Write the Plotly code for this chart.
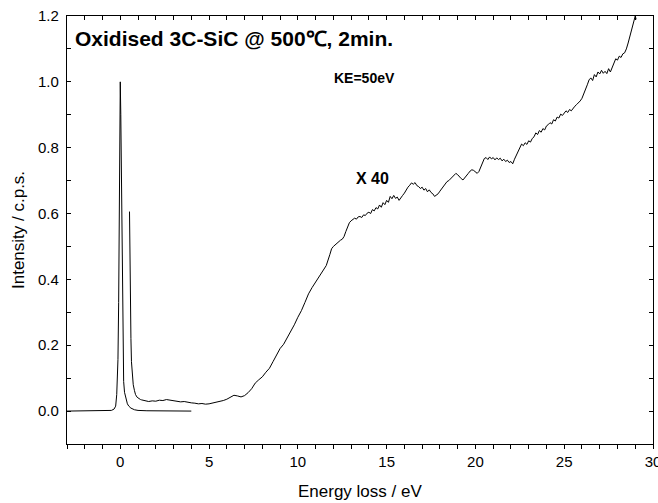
import plotly.graph_objects as go

# Zero-loss (elastic) peak
zl_x = [-3.0, -1.0, -0.5, -0.35, -0.26, -0.2, -0.13, -0.09, -0.06, -0.03, 0.0, 0.03, 0.06, 0.09,
        0.12, 0.15, 0.19, 0.24, 0.32, 0.4, 0.48, 0.6, 0.8, 1.0, 1.5, 4.0]
zl_y = [0.0, 0.0, 0.002, 0.006, 0.015, 0.05, 0.157, 0.33, 0.56, 0.82, 1.0, 0.9, 0.72, 0.56,
        0.33, 0.157, 0.09, 0.057, 0.035, 0.022, 0.015, 0.009, 0.004, 0.002, 0.001, 0.0]

# Loss spectrum magnified x40
x40_x = [0.52, 0.54, 0.56, 0.58, 0.6, 0.63, 0.67, 0.73, 0.8, 0.86, 0.95, 1.05, 1.14,
         1.2, 1.4, 1.6, 1.8, 2.0, 2.2, 2.4, 2.6, 2.8, 3.0, 3.2, 3.4, 3.6, 3.8, 4.0, 4.2, 4.4, 4.6, 4.8,
         5.0, 5.2, 5.4, 5.6, 5.8, 6.0, 6.2, 6.4, 6.6, 6.8, 7.0, 7.2, 7.4, 7.6, 7.8, 8.0, 8.2, 8.4, 8.6,
         8.8, 9.0, 9.2, 9.4, 9.6, 9.8, 10.0, 10.2, 10.4, 10.6, 10.8, 11.0, 11.2, 11.4, 11.6, 11.8, 11.9,
         12.0, 12.1, 12.2, 12.3, 12.4, 12.5, 12.6, 12.7, 12.8, 12.9, 13.0, 13.1, 13.2, 13.3, 13.4, 13.5,
         13.6, 13.7, 13.8, 13.9, 14.0, 14.1, 14.2, 14.3, 14.4, 14.5, 14.6, 14.7, 14.8, 14.9, 15.0, 15.1,
         15.2, 15.3, 15.4, 15.5, 15.6, 15.7, 15.8, 15.9, 16.0, 16.1, 16.2, 16.3, 16.4, 16.5, 16.6, 16.7,
         16.8, 16.9, 17.0, 17.1, 17.2, 17.3, 17.4, 17.5, 17.6, 17.7, 17.8, 17.9, 18.0, 18.1, 18.2, 18.3,
         18.4, 18.5, 18.6, 18.7, 18.8, 18.9, 19.0, 19.1, 19.2, 19.3, 19.4, 19.5, 19.6, 19.7, 19.8, 19.9,
         20.0, 20.1, 20.2, 20.3, 20.4, 20.5, 20.6, 20.7, 20.8, 20.9, 21.0, 21.1, 21.2, 21.3, 21.4, 21.5,
         21.6, 21.7, 21.8, 21.9, 22.0, 22.1, 22.2, 22.3, 22.4, 22.5, 22.6, 22.7, 22.8, 22.9, 23.0, 23.1,
         23.2, 23.3, 23.4, 23.5, 23.6, 23.7, 23.8, 23.9, 24.0, 24.1, 24.2, 24.3, 24.4, 24.5, 24.6, 24.7,
         24.8, 24.9, 25.0, 25.1, 25.2, 25.3, 25.4, 25.5, 25.6, 25.7, 25.8, 25.9, 26.0, 26.1, 26.2, 26.3,
         26.4, 26.5, 26.6, 26.7, 26.8, 26.9, 27.0, 27.1, 27.2, 27.3, 27.4, 27.5, 27.6, 27.7, 27.8, 27.9,
         28.0, 28.1, 28.2, 28.3, 28.4, 28.5, 28.6, 28.7, 28.8, 28.9, 28.95, 29.0, 29.05]
x40_y = [0.606, 0.45, 0.36, 0.30, 0.22, 0.15, 0.11, 0.08, 0.062, 0.05, 0.042, 0.037, 0.035,
         0.034, 0.031, 0.029, 0.031, 0.030, 0.033, 0.032, 0.035, 0.033, 0.032, 0.031, 0.028, 0.029, 0.026,
         0.025, 0.024, 0.022, 0.023, 0.021, 0.022, 0.024, 0.026, 0.029, 0.032, 0.036, 0.042, 0.048, 0.046,
         0.043, 0.047, 0.056, 0.068, 0.085, 0.095, 0.104, 0.118, 0.130, 0.150, 0.170, 0.190, 0.203, 0.222,
         0.242, 0.262, 0.285, 0.305, 0.330, 0.356, 0.375, 0.392, 0.405, 0.425, 0.442, 0.475, 0.493,
         0.500, 0.505, 0.511, 0.514, 0.519, 0.522, 0.530, 0.545, 0.560, 0.572, 0.578, 0.581, 0.586, 0.583,
         0.590, 0.591, 0.588, 0.596, 0.594, 0.601, 0.604, 0.600, 0.612, 0.608, 0.618, 0.614, 0.626, 0.619,
         0.633, 0.627, 0.640, 0.634, 0.652, 0.645, 0.655, 0.646, 0.650, 0.640, 0.646, 0.655, 0.662, 0.672,
         0.680, 0.686, 0.693, 0.689, 0.694, 0.685, 0.682, 0.676, 0.680, 0.671, 0.676, 0.666, 0.672, 0.664,
         0.660, 0.652, 0.656, 0.660, 0.668, 0.675, 0.684, 0.690, 0.697, 0.700, 0.706, 0.710, 0.716, 0.722,
         0.718, 0.711, 0.706, 0.702, 0.710, 0.716, 0.722, 0.729, 0.733, 0.731, 0.727, 0.722, 0.728, 0.740,
         0.752, 0.767, 0.770, 0.764, 0.772, 0.766, 0.770, 0.763, 0.769, 0.764, 0.768, 0.760, 0.765, 0.758,
         0.762, 0.755, 0.758, 0.751, 0.765, 0.776, 0.789, 0.798, 0.811, 0.806, 0.815, 0.810, 0.821, 0.817,
         0.828, 0.833, 0.845, 0.840, 0.852, 0.847, 0.858, 0.854, 0.866, 0.870, 0.876, 0.872, 0.885, 0.881,
         0.893, 0.890, 0.902, 0.898, 0.905, 0.912, 0.907, 0.916, 0.912, 0.921, 0.926, 0.931, 0.936, 0.942,
         0.950, 0.962, 0.976, 0.991, 1.006, 1.012, 1.004, 1.022, 1.015, 1.030, 1.024, 1.035, 1.026, 1.032,
         1.025, 1.040, 1.030, 1.045, 1.058, 1.070, 1.066, 1.078, 1.074, 1.085, 1.088, 1.100, 1.118, 1.140,
         1.160, 1.180, 1.195, 1.200, 1.190]

x_tick_vals = [0, 5, 10, 15, 20, 25, 30]
y_tick_vals = [0.0, 0.2, 0.4, 0.6, 0.8, 1.0, 1.2]

title_text = "<b>Oxidised 3C-SiC @ 500\u2103, 2min.</b>"
ke_text = "<b>KE=50eV</b>"
mag_text = "<b>X 40</b>"
x_title = "Energy loss / eV"
y_title = "Intensity / c.p.s."

FONT = "Liberation Sans, Arial, Helvetica, sans-serif"

fig = go.Figure()
fig.add_trace(go.Scatter(x=zl_x, y=zl_y, mode="lines", line=dict(color="black", width=1),
                         showlegend=False, hoverinfo="skip"))
fig.add_trace(go.Scatter(x=x40_x, y=x40_y, mode="lines", line=dict(color="black", width=1),
                         showlegend=False, hoverinfo="skip"))
# helper trace so the mirrored top/right axes are drawn
fig.add_trace(go.Scatter(x=[None], y=[None], xaxis="x2", yaxis="y2", mode="lines",
                         showlegend=False, hoverinfo="skip"))

common = dict(showline=True, linecolor="black", linewidth=1.3, showgrid=False, zeroline=False,
              tickcolor="black", tickwidth=1, ticklen=4, automargin=False)

fig.update_layout(
    width=658, height=503,
    margin=dict(l=67, r=5, t=16, b=59),
    paper_bgcolor="white", plot_bgcolor="white",
    font=dict(family=FONT, size=15, color="black"),
    xaxis=dict(range=[-3, 30], tickvals=x_tick_vals, ticks="outside", ticklabeloverflow="allow",
               minor=dict(dtick=1, tick0=0, ticks="outside", ticklen=4, tickcolor="black"),
               tickfont=dict(size=15), **common),
    yaxis=dict(range=[-0.1, 1.2], tickvals=y_tick_vals, tickformat=".1f", ticks="inside",
               minor=dict(dtick=0.1, tick0=0, ticks="inside", ticklen=4, tickcolor="black"),
               tickfont=dict(size=15), ticklabelstandoff=4, **common),
    xaxis2=dict(range=[-3, 30], overlaying="x", side="top", anchor="y", tickvals=x_tick_vals,
                ticks="inside", showticklabels=False,
                minor=dict(dtick=1, tick0=0, ticks="inside", ticklen=4, tickcolor="black"), **common),
    yaxis2=dict(range=[-0.1, 1.2], overlaying="y", side="right", anchor="x", tickvals=y_tick_vals,
                ticks="inside", showticklabels=False,
                minor=dict(dtick=0.1, tick0=0, ticks="inside", ticklen=4, tickcolor="black"), **common),
    annotations=[
        dict(text=title_text, x=-2.64, y=1.132, xref="x", yref="y", xanchor="left", yanchor="middle",
             showarrow=False, font=dict(size=21, family=FONT)),
        dict(text=ke_text, x=13.78, y=1.011, xref="x", yref="y", xanchor="center", yanchor="middle",
             showarrow=False, font=dict(size=14, family=FONT)),
        dict(text=mag_text, x=14.2, y=0.705, xref="x", yref="y", xanchor="center", yanchor="middle",
             showarrow=False, font=dict(size=16, family=FONT)),
        dict(text=x_title, x=0.5, y=-0.11, xref="paper", yref="paper", xanchor="center", yanchor="middle",
             showarrow=False, font=dict(size=17, family=FONT)),
        dict(text=y_title, x=-0.0836, y=0.5, xref="paper", yref="paper", xanchor="center", yanchor="middle",
             textangle=-90, showarrow=False, font=dict(size=17, family=FONT)),
    ],
)

fig.write_html("out.html")
